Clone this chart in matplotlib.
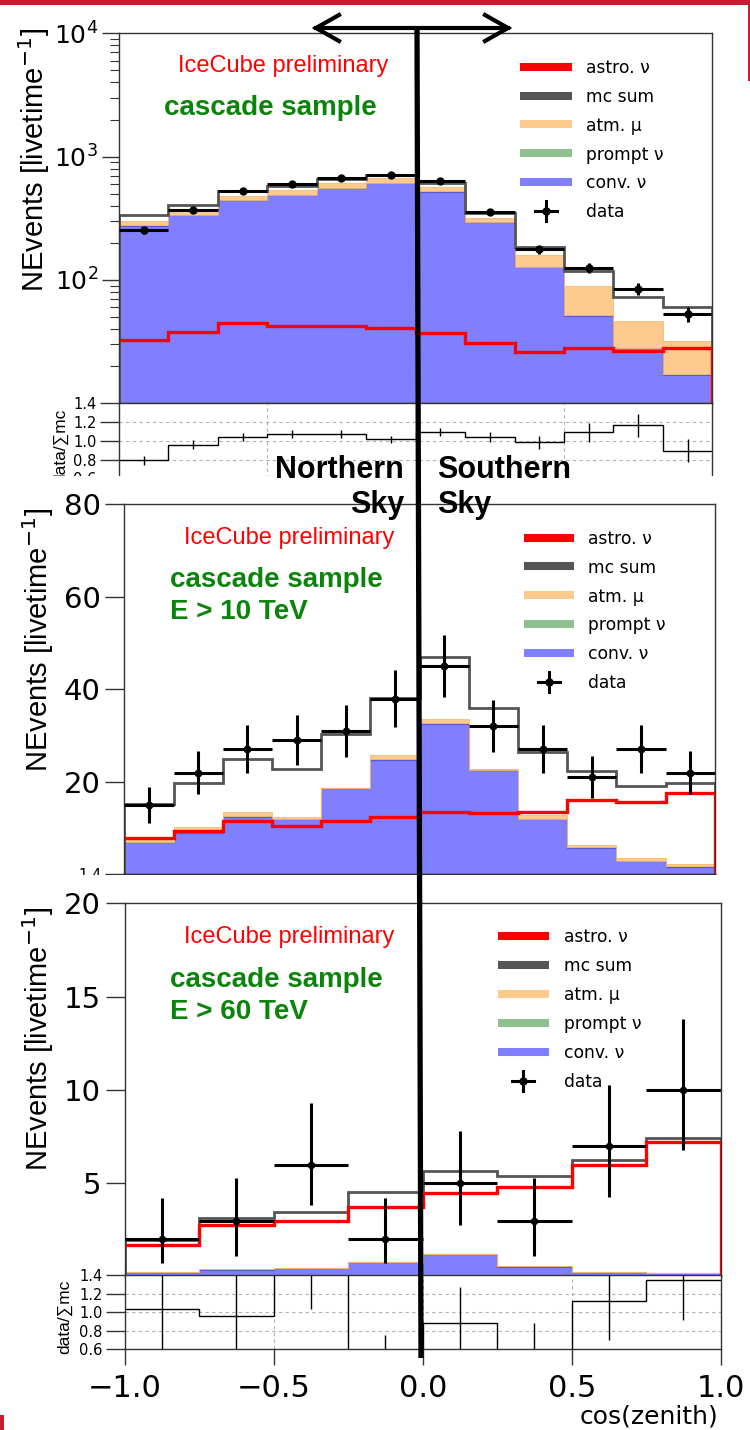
import numpy as np
import matplotlib
matplotlib.use('Agg')
import matplotlib.pyplot as plt
from matplotlib.patches import Rectangle
from matplotlib.ticker import NullFormatter

W, H = 750, 1430

# cos(zenith) binning
edges_12 = np.linspace(-1.0, 1.0, 13)
edges_8 = np.linspace(-1.0, 1.0, 9)

# full cascade sample (events per bin)
conv_all = [276, 337, 446, 489, 554, 608, 520, 294, 127, 51.4, 27.9, 17.0]
prompt_all = [2.0, 2.0, 3.0, 3.0, 3.0, 3.0, 3.0, 2.0, 1.0, 0.5, 0.3, 0.2]
atm_all = [24, 26, 34, 45, 58, 57, 48, 20, 32, 37.5, 18.6, 14.8]
astro_all = [32.6, 38.1, 44.6, 42.6, 42.6, 40.6, 37.0, 31.0, 26.2, 27.9, 26.5, 28.2]
data_all = [254, 370, 530, 597, 668, 710, 638, 358, 177, 126, 85, 53]
ratio_all = [0.79, 0.957, 1.039, 1.071, 1.071, 1.018, 1.093, 1.039, 0.982, 1.089, 1.164, 0.893]

# E > 10 TeV
conv_10 = [7.0, 9.0, 12.4, 11.9, 18.6, 24.7, 32.5, 22.5, 11.9, 5.75, 2.9, 1.65]
prompt_10 = [0.05, 0.1, 0.1, 0.1, 0.05, 0.2, 0.2, 0.1, 0.1, 0.05, 0.05, 0.05]
atm_10 = [0.3, 1.2, 1.0, 0.3, 0.1, 0.9, 0.9, 0.1, 0.9, 0.45, 0.5, 0.45]
astro_10 = [7.8, 9.35, 11.5, 10.4, 11.5, 12.4, 13.45, 13.3, 13.45, 16.0, 15.6, 17.6]
data_10 = [15, 22, 27, 29, 31, 38, 45, 32, 27, 21, 27, 22]

# E > 60 TeV
conv_60 = [0.22, 0.36, 0.45, 0.76, 1.18, 0.52, 0.22, 0.18]
prompt_60 = [0.01, 0.02, 0.02, 0.02, 0.03, 0.02, 0.01, 0.01]
atm_60 = [0.01, 0.01, 0.01, 0.01, 0.01, 0.01, 0.01, 0.01]
astro_60 = [1.70, 2.75, 2.95, 3.75, 4.46, 4.82, 5.98, 7.23]
data_60 = [2, 3, 6, 2, 5, 3, 7, 10]
data_60_lo = [1.25, 1.89, 2.16, 1.25, 2.23, 1.89, 2.75, 3.21]
data_60_hi = [2.23, 2.30, 3.29, 2.23, 2.82, 2.30, 3.27, 3.79]

legend_labels = ['astro. \u03bd', 'mc sum', 'atm. \u03bc', 'prompt \u03bd', 'conv. \u03bd', 'data']
cut_labels = ['E > 10 TeV', 'E > 60 TeV']
log_ticks = [1e2, 1e3, 1e4]
log_ticklabels = ['$10^{2}$', '$10^{3}$', '$10^{4}$']
ratio_ticks = [0.6, 0.8, 1.0, 1.2, 1.4]
x_ticks = [-1.0, -0.5, 0.0, 0.5, 1.0]
x_ticklabels = ['\u22121.0', '\u22120.5', '0.0', '0.5', '1.0']

C_CONV = '#7f7fff'
C_CONV_EDGE = '#5a5ac8'
C_PROMPT = '#8fc08f'
C_ATM = '#fbca8c'
C_MC = '#555555'
C_ASTRO = '#ff0000'
GREEN = '#0a840a'
RED_BAR = '#c71b2f'
FRAME = '#333333'
SANS = ['Liberation Sans', 'DejaVu Sans']

fig = plt.figure(figsize=(W / 100, H / 100), dpi=100)


def box(x0, y0, x1, y1):
    # pixel box, origin top-left -> figure fraction
    return [x0 / W, 1 - y1 / H, (x1 - x0) / W, (y1 - y0) / H]


def backdrop(y0):
    bg = fig.add_axes(box(0, y0, W, H))
    bg.set_xticks([])
    bg.set_yticks([])
    for sp in bg.spines.values():
        sp.set_visible(False)


def frame(ax):
    for sp in ax.spines.values():
        sp.set_color(FRAME)
        sp.set_linewidth(1.0)


def main_panel(rect, edges, conv, prompt, atm, astro, data, yerr, ymin, ms):
    ax = fig.add_axes(box(*rect))
    conv = np.asarray(conv, float)
    top_p = conv + np.asarray(prompt, float)
    top_a = top_p + np.asarray(atm, float)
    astro = np.asarray(astro, float)
    mc = top_a + astro

    ax.stairs(conv, edges, baseline=ymin, fill=True, facecolor=C_CONV,
              edgecolor=C_CONV_EDGE, lw=0.8, zorder=1)
    ax.stairs(top_p, edges, baseline=conv, fill=True, facecolor=C_PROMPT, zorder=1.1)
    ax.stairs(top_a, edges, baseline=top_p, fill=True, facecolor=C_ATM,
              edgecolor='#f3b46a', lw=0.5, zorder=1.2)
    ax.stairs(mc, edges, baseline=ymin, color=C_MC, lw=2.0, zorder=2)
    ax.stairs(astro, edges, baseline=None, color=C_ASTRO, lw=2.4, zorder=2.2)
    ax.vlines(edges[-1], ymin, astro[-1], color=C_ASTRO, lw=2.4, zorder=2.6)

    centers = 0.5 * (edges[1:] + edges[:-1])
    ax.errorbar(centers, data, xerr=np.diff(edges) / 2, yerr=yerr, fmt='o',
                color='k', ms=ms, elinewidth=2.2, capsize=0, zorder=3)

    ax.set_xlim(-1, 1)
    ax.tick_params(axis='x', bottom=False, labelbottom=False)
    ax.tick_params(axis='y', which='major', direction='out', length=14, width=1,
                   labelsize=21, pad=3, color=FRAME)
    frame(ax)
    ax.set_ylabel('NEvents [livetime$^{-1}$]', loc='top', family=SANS, fontsize=21)
    return ax, mc


def ratio_panel(rect, edges, ratio, err, with_x):
    r = fig.add_axes(box(*rect))
    centers = 0.5 * (edges[1:] + edges[:-1])
    r.stairs(ratio, edges, baseline=None, color='k', lw=1.0, zorder=2)
    r.errorbar(centers, ratio, yerr=err, fmt='none', ecolor='k', elinewidth=1.0,
               capsize=0, zorder=2)
    r.set_xlim(-1, 1)
    r.set_ylim(0.6, 1.4)
    r.set_yticks(ratio_ticks)
    r.set_yticklabels([f'{t:.1f}' for t in ratio_ticks])
    r.set_xticks(x_ticks)
    r.grid(True, linestyle=(0, (3, 3)), color='#b0b0b0', lw=0.8)
    r.tick_params(axis='y', direction='out', length=14, width=1, labelsize=10.5,
                  pad=2, color=FRAME)
    if with_x:
        r.set_xticklabels(x_ticklabels)
        r.tick_params(axis='x', direction='out', length=11.5, width=1, labelsize=22,
                      pad=6.5, color=FRAME)
    else:
        r.tick_params(axis='x', bottom=False, labelbottom=False)
    r.set_ylabel('data/\u2211mc', family=SANS, fontsize=12.5)
    frame(r)
    return r


# ---- top: all cascades, log scale
ax1, mc1 = main_panel((119, 33.3, 712.3, 403.3), edges_12, conv_all, prompt_all, atm_all,
                      astro_all, data_all, np.sqrt(data_all), 10, 5)
ax1.set_yscale('log')
ax1.set_ylim(10, 1e4)
ax1.set_yticks(log_ticks)
ax1.set_yticklabels(log_ticklabels)
ax1.yaxis.set_minor_formatter(NullFormatter())
ax1.tick_params(axis='y', which='major', length=12, labelsize=18)
ax1.tick_params(axis='y', which='minor', direction='out', length=6.5, width=0.8, color=FRAME)
ax1.yaxis.set_label_coords(-0.113, 1.014)
ratio_all = np.asarray(ratio_all)
r1 = ratio_panel((119, 403.3, 712.3, 478.3), edges_12, ratio_all,
                 ratio_all / np.sqrt(data_all), False)
r1.yaxis.set_label_coords(-0.086, 0.435)

# ---- middle: E > 10 TeV
backdrop(476.5)
ax2, mc2 = main_panel((124.4, 504.4, 714.8, 874.2), edges_12, conv_10, prompt_10, atm_10,
                      astro_10, data_10, np.sqrt(data_10), 0, 4.6)
ax2.set_ylim(0, 80)
ax2.set_yticks([20, 40, 60, 80])
ax2.yaxis.set_label_coords(-0.1155, 0.990)
ratio_10 = np.asarray(data_10) / mc2
r2 = ratio_panel((124.4, 874.2, 714.8, 948.5), edges_12, ratio_10,
                 np.sqrt(data_10) / mc2, False)
# only the top edge of this ratio pad stays uncovered
r2.set_yticks([1.4])
r2.set_ylabel('')

# ---- bottom: E > 60 TeV
backdrop(875)
ax3, mc3 = main_panel((124.7, 903.3, 720.7, 1276.5), edges_8, conv_60, prompt_60, atm_60,
                      astro_60, data_60, [data_60_lo, data_60_hi], 0, 4.4)
ax3.set_ylim(0, 20)
ax3.set_yticks([5, 10, 15, 20])
ax3.yaxis.set_label_coords(-0.115, 0.990)
ratio_60 = np.asarray(data_60) / mc3
r3 = ratio_panel((124.7, 1275, 720.7, 1349.3), edges_8, ratio_60,
                 np.sqrt(data_60) / mc3, True)
r3.yaxis.set_label_coords(-0.088, 0.435)
r3.set_xlabel('cos(zenith)', loc='right', fontsize=18)
r3.xaxis.set_label_coords(0.9955, -0.74)

# ---- annotations in pixel coordinates
ov = fig.add_axes([0, 0, 1, 1], facecolor='none')
ov.set_xlim(0, W)
ov.set_ylim(H, 0)
ov.axis('off')


def panel_text(x, y_ice, y_sample, y_cut, cut):
    ov.text(x + 14, y_ice, 'IceCube preliminary', color='red', fontsize=17,
            family=SANS, va='baseline')
    ov.text(x, y_sample, 'cascade sample', color=GREEN, fontsize=20,
            family=SANS, weight='bold', va='baseline')
    if cut:
        ov.text(x, y_cut, cut, color=GREEN, fontsize=20, family=SANS,
                weight='bold', va='baseline')


def legend_block(x0, x1, xt, y_top, step):
    colors = [C_ASTRO, C_MC, C_ATM, C_PROMPT, C_CONV]
    for i, lab in enumerate(legend_labels):
        y = y_top + i * step
        if i < len(colors):
            ov.plot([x0, x1], [y, y], color=colors[i], lw=5.8, solid_capstyle='butt')
        else:
            xc = 0.5 * (x0 + x1)
            ov.plot([xc - 11, xc + 11], [y, y], color='k', lw=2.2)
            ov.plot([xc, xc], [y - 10, y + 10], color='k', lw=2.2)
            ov.plot(xc, y, 'o', color='k', ms=5)
        ov.text(xt, y + 6.5, lab, fontsize=12.3, va='baseline')


panel_text(164, 72.3, 115, None, None)
legend_block(520, 572, 586, 66.7, 28.8)
panel_text(170, 544, 587.3, 619.3, cut_labels[0])
legend_block(524, 574, 588, 537.5, 28.8)
panel_text(170, 942.7, 987.3, 1019.3, cut_labels[1])
legend_block(497.6, 549.3, 563.6, 936, 28.9)

# hemisphere divider
ov.plot([417, 421], [28, 1358], color='k', lw=3.8, solid_capstyle='butt')
ov.plot([316, 508], [28, 28], color='k', lw=3)
ov.plot([339, 316, 339], [15, 28, 41], color='k', lw=3, solid_joinstyle='miter')
ov.plot([485, 508, 485], [15, 28, 41], color='k', lw=3, solid_joinstyle='miter')
ov.text(404, 478, 'Northern', fontsize=22, weight='bold', family=SANS, ha='right', va='baseline')
ov.text(404, 513, 'Sky', fontsize=22, weight='bold', family=SANS, ha='right', va='baseline')
ov.text(437, 478, 'Southern', fontsize=22, weight='bold', family=SANS, ha='left', va='baseline')
ov.text(437, 513, 'Sky', fontsize=22, weight='bold', family=SANS, ha='left', va='baseline')

# slide border pieces
ov.add_patch(Rectangle((0, 0), W, 5, color=RED_BAR, lw=0))
ov.add_patch(Rectangle((747.5, 0), 2.5, 81, color=RED_BAR, lw=0))
ov.add_patch(Rectangle((0, 1415), 4, 15, color=RED_BAR, lw=0))

fig.savefig('out.png', dpi=100)
